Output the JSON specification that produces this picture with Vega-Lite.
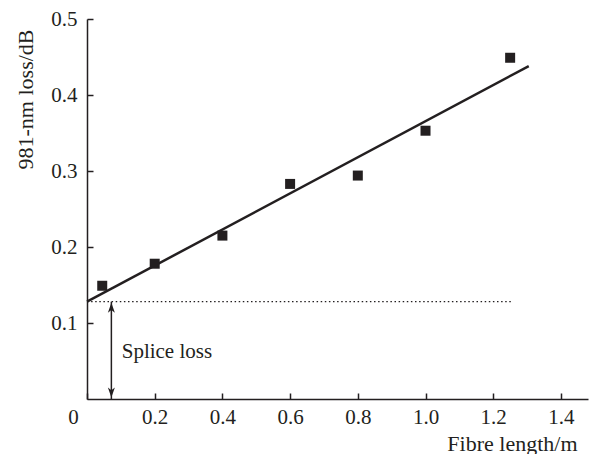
{
  "$schema": "https://vega.github.io/schema/vega-lite/v6.json",
  "width": 501,
  "height": 380,
  "autosize": {"type": "none"},
  "padding": {"left": 87, "top": 19, "right": 1, "bottom": 55},
  "background": "white",
  "config": {
    "view": {"stroke": null},
    "font": "Liberation Serif",
    "axis": {
      "domainColor": "#231f20",
      "domainWidth": 1.5,
      "tickColor": "#231f20",
      "tickWidth": 1.5,
      "tickSize": -6,
      "labelFont": "Liberation Serif",
      "labelFontSize": 21,
      "labelColor": "#231f20",
      "titleFont": "Liberation Serif",
      "titleFontWeight": "normal",
      "titleColor": "#231f20",
      "grid": false
    }
  },
  "datasets": {
    "points": [
      {"length": 0.045, "loss": 0.149},
      {"length": 0.2, "loss": 0.178},
      {"length": 0.4, "loss": 0.215},
      {"length": 0.6, "loss": 0.283},
      {"length": 0.8, "loss": 0.294},
      {"length": 1.0, "loss": 0.353},
      {"length": 1.25, "loss": 0.449}
    ],
    "fit": [
      {"length": 0.0, "loss": 0.128},
      {"length": 1.305, "loss": 0.438}
    ],
    "splice": [
      {"x0": 0, "x1": 1.255, "level": 0.128, "ax": 0.072, "bottom": 0}
    ],
    "heads": [
      {"ax": 0.072, "y": 0.12, "dir": "up"},
      {"ax": 0.072, "y": 0.0086, "dir": "down"}
    ],
    "label": [
      {"x": 0.1025, "y": 0.054, "text": "Splice loss"}
    ]
  },
  "layer": [
    {
      "data": {"name": "fit"},
      "mark": {"type": "line", "color": "#231f20", "strokeWidth": 2.5, "clip": false},
      "encoding": {
        "x": {
          "field": "length", "type": "quantitative",
          "scale": {"domain": [0, 1.48], "nice": false, "zero": false},
          "axis": {
            "values": [0, 0.2, 0.4, 0.6, 0.8, 1.0, 1.2, 1.4],
            "labelExpr": "datum.value == 0 ? '0' : format(datum.value, '.1f')",
            "labelOffset": {"condition": {"test": "datum.value == 0", "value": -14}, "value": 0},
            "labelPadding": 13,
            "labelFlush": false,
            "labelFont": "Liberation Serif",
            "title": "Fibre length/m",
            "titleFont": "Liberation Serif",
            "titleFontSize": 22,
            "titleAlign": "right",
            "titleBaseline": "alphabetic",
            "titleAnchor": null,
            "titleX": 490,
            "titleY": 51
          }
        },
        "y": {
          "field": "loss", "type": "quantitative",
          "scale": {"domain": [0, 0.5], "nice": false, "zero": false},
          "axis": {
            "values": [0.1, 0.2, 0.3, 0.4, 0.5],
            "format": ".1f",
            "labelPadding": 16,
            "labelBaseline": "middle",
            "labelFont": "Liberation Serif",
            "title": "981-nm loss/dB",
            "titleFont": "Liberation Serif",
            "titleFontSize": 22,
            "titleAngle": -90,
            "titleAlign": "center",
            "titleBaseline": "middle",
            "titleAnchor": null,
            "titleX": -62,
            "titleY": 80
          }
        }
      }
    },
    {
      "data": {"name": "points"},
      "mark": {"type": "point", "shape": "square", "filled": true, "opacity": 1, "size": 100, "color": "#231f20"},
      "encoding": {
        "x": {"field": "length", "type": "quantitative"},
        "y": {"field": "loss", "type": "quantitative"}
      }
    },
    {
      "data": {"name": "splice"},
      "mark": {"type": "rule", "color": "#231f20", "strokeWidth": 1.3, "strokeDash": [1.5, 2.6]},
      "encoding": {
        "x": {"field": "x0", "type": "quantitative"},
        "x2": {"field": "x1"},
        "y": {"field": "level", "type": "quantitative"}
      }
    },
    {
      "data": {"name": "splice"},
      "mark": {"type": "rule", "color": "#231f20", "strokeWidth": 1.5},
      "encoding": {
        "x": {"field": "ax", "type": "quantitative"},
        "y": {"field": "level", "type": "quantitative"},
        "y2": {"field": "bottom"}
      }
    },
    {
      "data": {"name": "heads"},
      "transform": [{"filter": "datum.dir == 'up'"}],
      "mark": {"type": "point", "shape": "M0,-1L0.7,1L0,0.45L-0.7,1Z", "filled": true, "opacity": 1, "size": 100, "color": "#231f20"},
      "encoding": {
        "x": {"field": "ax", "type": "quantitative"},
        "y": {"field": "y", "type": "quantitative"}
      }
    },
    {
      "data": {"name": "heads"},
      "transform": [{"filter": "datum.dir == 'down'"}],
      "mark": {"type": "point", "shape": "M0,1L0.7,-1L0,-0.45L-0.7,-1Z", "filled": true, "opacity": 1, "size": 100, "color": "#231f20"},
      "encoding": {
        "x": {"field": "ax", "type": "quantitative"},
        "y": {"field": "y", "type": "quantitative"}
      }
    },
    {
      "data": {"name": "label"},
      "mark": {"type": "text", "align": "left", "baseline": "alphabetic", "font": "Liberation Serif", "fontSize": 21, "color": "#231f20"},
      "encoding": {
        "x": {"field": "x", "type": "quantitative"},
        "y": {"field": "y", "type": "quantitative"},
        "text": {"field": "text"}
      }
    },
    {
      "mark": {"type": "rule", "color": "#231f20", "strokeWidth": 1.5},
      "encoding": {"y": {"datum": 0.5}}
    }
  ]
}
